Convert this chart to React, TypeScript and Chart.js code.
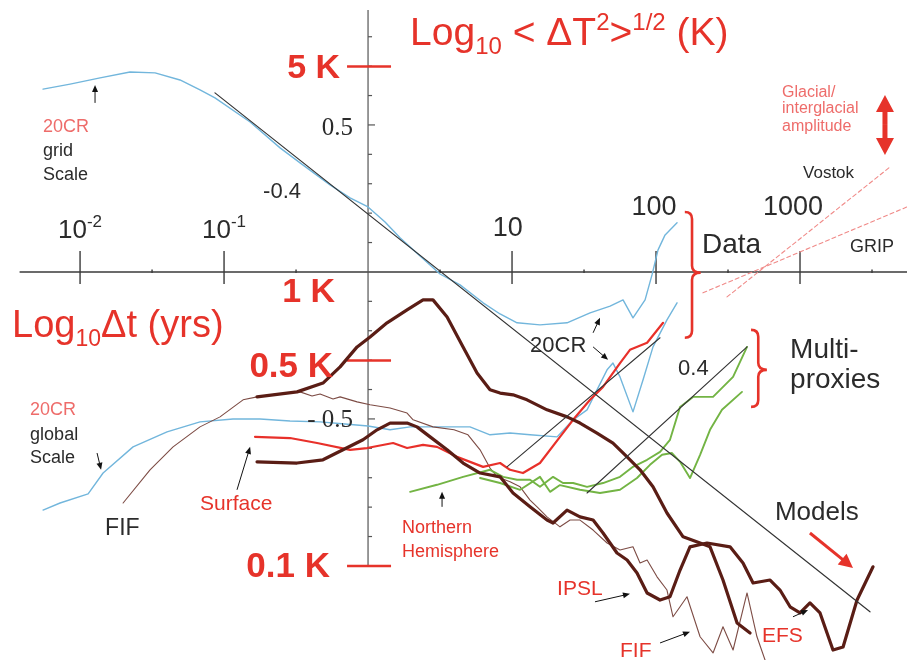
import React, { useEffect, useRef } from "react";
import { Chart, registerables } from "chart.js";
Chart.register(...registerables);

// axis ranges: x = log10 Δt (yrs), y = log10 <ΔT²>^1/2 (K)
const X_MIN = -2.556;
const X_MAX = 3.743;
const Y_MIN = -1.32;
const Y_MAX = 0.925;

// 20CR grid scale (blue, upper)
const gridX = [-2.257, -2.069, -1.861, -1.653, -1.479, -1.306, -1.167, -1.063, -0.819, -0.611, -0.472, -0.264, -0.125, 0, 0.118, 0.222, 0.361, 0.5, 0.639, 0.799, 0.917, 1.035, 1.194, 1.382, 1.542, 1.681, 1.771, 1.84, 1.924, 1.972, 2.014, 2.063, 2.146];
const gridY = [0.622, 0.639, 0.66, 0.68, 0.677, 0.653, 0.619, 0.592, 0.51, 0.422, 0.371, 0.296, 0.252, 0.221, 0.17, 0.116, 0.054, -0.007, -0.044, -0.105, -0.143, -0.173, -0.18, -0.173, -0.139, -0.116, -0.095, -0.156, -0.095, -0.01, 0.075, 0.126, 0.167];

// 20CR global scale (blue, lower)
const globalX = [-2.257, -2.139, -1.944, -1.84, -1.632, -1.396, -1.167, -0.938, -0.75, -0.542, -0.333, -0.16, 0, 0.153, 0.292, 0.5, 0.708, 0.847, 0.986, 1.125, 1.313, 1.424, 1.521, 1.59, 1.66, 1.701, 1.75, 1.84, 1.91, 1.979, 2.076, 2.146];
const globalY = [-0.81, -0.786, -0.755, -0.684, -0.595, -0.544, -0.51, -0.5, -0.5, -0.507, -0.51, -0.517, -0.524, -0.537, -0.527, -0.527, -0.527, -0.554, -0.548, -0.554, -0.561, -0.503, -0.469, -0.401, -0.333, -0.31, -0.357, -0.476, -0.367, -0.255, -0.163, -0.105];

// Surface (red)
const surfaceX = [-0.785, -0.542, -0.354, -0.125, -0.007, 0.174, 0.271, 0.382, 0.479, 0.618, 0.799, 0.917, 0.986, 1.076, 1.194, 1.333, 1.424, 1.542, 1.632, 1.75, 1.819, 1.938, 2.049];
const surfaceY = [-0.561, -0.565, -0.582, -0.605, -0.599, -0.582, -0.599, -0.588, -0.595, -0.629, -0.663, -0.65, -0.673, -0.684, -0.65, -0.561, -0.503, -0.435, -0.391, -0.31, -0.265, -0.241, -0.173];

// Model A (thick brown, upper)
const modelAX = [-0.771, -0.493, -0.313, -0.194, -0.076, 0.014, 0.132, 0.271, 0.382, 0.451, 0.549, 0.66, 0.757, 0.847, 0.917, 1.007, 1.104, 1.243, 1.382, 1.472, 1.59, 1.701, 1.799, 1.889, 1.979, 2.076, 2.188, 2.306, 2.375, 2.465, 2.563, 2.653];
const modelAY = [-0.425, -0.408, -0.378, -0.323, -0.255, -0.221, -0.173, -0.129, -0.095, -0.095, -0.153, -0.255, -0.344, -0.401, -0.412, -0.418, -0.435, -0.469, -0.493, -0.514, -0.548, -0.582, -0.629, -0.673, -0.731, -0.82, -0.901, -0.922, -0.935, -1.048, -1.194, -1.228];

// Model B (thick brown, lower, IPSL / EFS)
const modelBX = [-0.771, -0.493, -0.313, -0.174, -0.035, 0.063, 0.153, 0.271, 0.34, 0.431, 0.549, 0.66, 0.778, 0.917, 1.007, 1.125, 1.243, 1.285, 1.382, 1.472, 1.563, 1.632, 1.729, 1.799, 1.868, 1.938, 2.028, 2.097, 2.167, 2.236, 2.354, 2.514, 2.604, 2.674, 2.792, 2.861, 2.931, 3.0, 3.069, 3.139, 3.229, 3.299, 3.396, 3.507];
const modelBY = [-0.646, -0.65, -0.639, -0.605, -0.571, -0.537, -0.514, -0.514, -0.527, -0.561, -0.605, -0.65, -0.684, -0.697, -0.752, -0.799, -0.844, -0.854, -0.81, -0.833, -0.844, -0.888, -0.956, -0.98, -1.024, -1.092, -1.116, -1.105, -1.014, -0.935, -0.922, -0.935, -0.99, -1.058, -1.048, -1.082, -1.139, -1.16, -1.126, -1.16, -1.286, -1.276, -1.116, -1.003];

// FIF (thin brown)
const fifX = [-1.701, -1.514, -1.354, -1.167, -1.028, -0.868, -0.771, -0.681, -0.472, -0.389, -0.333, -0.243, -0.194, -0.076, 0.014, 0.153, 0.271, 0.313, 0.451, 0.597, 0.694, 0.778, 0.847, 0.896, 0.986, 1.056, 1.125, 1.174, 1.243, 1.333, 1.403, 1.472, 1.563, 1.66, 1.75, 1.84, 1.889, 1.938, 2.007, 2.076, 2.118, 2.167, 2.215, 2.306, 2.396, 2.465, 2.535, 2.632, 2.701, 2.757];
const fifY = [-0.786, -0.673, -0.595, -0.527, -0.493, -0.435, -0.425, -0.418, -0.408, -0.422, -0.415, -0.432, -0.425, -0.442, -0.452, -0.463, -0.48, -0.503, -0.527, -0.537, -0.554, -0.605, -0.667, -0.697, -0.714, -0.731, -0.776, -0.799, -0.833, -0.867, -0.844, -0.844, -0.878, -0.922, -0.946, -0.935, -0.99, -0.98, -1.037, -1.082, -1.173, -1.139, -1.105, -1.241, -1.296, -1.207, -1.286, -1.092, -1.241, -1.32];

// Multi-proxies (green): Northern Hemisphere and second reconstruction
const nhX = [0.292, 0.479, 0.66, 0.847, 0.938, 1.035, 1.125, 1.194, 1.285, 1.354, 1.424, 1.521, 1.632, 1.75, 1.84, 1.938, 2.028, 2.097, 2.167, 2.257, 2.396, 2.535, 2.632];
const nhY = [-0.748, -0.724, -0.697, -0.673, -0.697, -0.707, -0.707, -0.731, -0.697, -0.718, -0.718, -0.731, -0.718, -0.697, -0.663, -0.639, -0.612, -0.571, -0.459, -0.425, -0.425, -0.357, -0.255];
const proxyX = [0.778, 0.917, 1.056, 1.194, 1.264, 1.333, 1.472, 1.611, 1.75, 1.868, 1.958, 2.042, 2.111, 2.167, 2.236, 2.306, 2.375, 2.458, 2.597];
const proxyY = [-0.701, -0.718, -0.741, -0.697, -0.748, -0.725, -0.741, -0.752, -0.741, -0.701, -0.656, -0.622, -0.616, -0.646, -0.701, -0.622, -0.537, -0.469, -0.408];

// Power-law fits (slopes -0.4 and 0.4)
const fitDownX = [-1.063, 3.486];
const fitDownY = [0.609, -1.156];
const fit1X = [0.965, 2.028];
const fit1Y = [-0.663, -0.224];
const fit2X = [1.521, 2.632];
const fit2Y = [-0.752, -0.255];

// Ice cores (dashed)
const vostokX = [2.493, 3.625];
const vostokY = [-0.085, 0.357];
const gripX = [2.326, 3.743];
const gripY = [-0.071, 0.221];

// Axis ticks
const xMajorTicks = [-2, -1, 1, 2, 3];
const xMinorTicks = [-1.5, -0.5, 0.5, 1.5, 2.5, 3.5];
const yMinorTicks = [0.8, 0.7, 0.6, 0.5, 0.4, 0.3, 0.2, 0.1, -0.1, -0.2, -0.3, -0.4, -0.5, -0.6, -0.7, -0.8, -0.9];
const kelvinTicks = [0.699, -0.301, -1];

const SANS = '"Liberation Sans", Arial, sans-serif';
const SERIF = '"Liberation Serif", "Times New Roman", serif';
const RED = "#e6332a";
const PINK = "#ee6c6a";
const DARK = "#2b2b2b";

type Part = { t: string; size: number; dy?: number; bold?: boolean; family?: string };
type Label = { parts: Part[]; x: number; y: number; align: "left" | "center" | "right"; color: string };

const P = (t: string, size: number, extra: Partial<Part> = {}): Part => ({ t, size, ...extra });

const labels: Label[] = [
  { parts: [P("Log", 39), P("10", 24, { dy: 9 }), P(" < ΔT", 39), P("2", 24, { dy: -15 }), P(">", 39), P("1/2", 24, { dy: -15 }), P(" (K)", 39)], x: 0.292, y: 0.772, align: "left", color: RED },
  { parts: [P("Log", 38), P("10", 23, { dy: 9 }), P("Δt (yrs)", 38)], x: -2.472, y: -0.221, align: "left", color: RED },
  { parts: [P("5 K", 34, { bold: true })], x: -0.194, y: 0.66, align: "right", color: RED },
  { parts: [P("1 K", 34, { bold: true })], x: -0.229, y: -0.102, align: "right", color: RED },
  { parts: [P("0.5 K", 35, { bold: true })], x: -0.243, y: -0.357, align: "right", color: RED },
  { parts: [P("0.1 K", 35, { bold: true })], x: -0.264, y: -1.037, align: "right", color: RED },
  { parts: [P("0.5", 25, { family: SERIF })], x: -0.104, y: 0.466, align: "right", color: DARK },
  { parts: [P("- 0.5", 25, { family: SERIF })], x: -0.104, y: -0.527, align: "right", color: DARK },
  { parts: [P("-0.4", 22)], x: -0.597, y: 0.252, align: "center", color: DARK },
  { parts: [P("10", 26), P("-2", 17, { dy: -11 })], x: -2, y: 0.116, align: "center", color: DARK },
  { parts: [P("10", 26), P("-1", 17, { dy: -11 })], x: -1, y: 0.116, align: "center", color: DARK },
  { parts: [P("10", 27)], x: 0.97, y: 0.122, align: "center", color: DARK },
  { parts: [P("100", 27)], x: 1.986, y: 0.194, align: "center", color: DARK },
  { parts: [P("1000", 27)], x: 2.951, y: 0.194, align: "center", color: DARK },
  { parts: [P("Data", 28)], x: 2.319, y: 0.065, align: "left", color: DARK },
  { parts: [P("Multi-", 28)], x: 2.931, y: -0.293, align: "left", color: DARK },
  { parts: [P("proxies", 28)], x: 2.931, y: -0.395, align: "left", color: DARK },
  { parts: [P("Models", 26)], x: 2.826, y: -0.844, align: "left", color: DARK },
  { parts: [P("20CR", 18)], x: -2.257, y: 0.476, align: "left", color: PINK },
  { parts: [P("grid", 18)], x: -2.257, y: 0.395, align: "left", color: DARK },
  { parts: [P("Scale", 18)], x: -2.257, y: 0.313, align: "left", color: DARK },
  { parts: [P("20CR", 18)], x: -2.347, y: -0.486, align: "left", color: PINK },
  { parts: [P("global", 18)], x: -2.347, y: -0.571, align: "left", color: DARK },
  { parts: [P("Scale", 18)], x: -2.347, y: -0.65, align: "left", color: DARK },
  { parts: [P("FIF", 23)], x: -1.826, y: -0.895, align: "left", color: DARK },
  { parts: [P("Surface", 21)], x: -1.167, y: -0.81, align: "left", color: RED },
  { parts: [P("Northern", 18)], x: 0.236, y: -0.888, align: "left", color: RED },
  { parts: [P("Hemisphere", 18)], x: 0.236, y: -0.969, align: "left", color: RED },
  { parts: [P("20CR", 22)], x: 1.125, y: -0.272, align: "left", color: DARK },
  { parts: [P("0.4", 22)], x: 2.153, y: -0.35, align: "left", color: DARK },
  { parts: [P("IPSL", 21)], x: 1.313, y: -1.099, align: "left", color: RED },
  { parts: [P("FIF", 21)], x: 1.75, y: -1.31, align: "left", color: RED },
  { parts: [P("EFS", 21)], x: 2.736, y: -1.259, align: "left", color: RED },
  { parts: [P("Glacial/", 16)], x: 2.875, y: 0.595, align: "left", color: PINK },
  { parts: [P("interglacial", 16)], x: 2.875, y: 0.541, align: "left", color: PINK },
  { parts: [P("amplitude", 16)], x: 2.875, y: 0.48, align: "left", color: PINK },
  { parts: [P("Vostok", 17)], x: 3.021, y: 0.32, align: "left", color: DARK },
  { parts: [P("GRIP", 18)], x: 3.347, y: 0.068, align: "left", color: DARK },
];

// small pointer arrows: [x1, y1, x2, y2] (tail -> head), in axis units
const pointerArrows: number[][] = [
  [-1.896, 0.575, -1.896, 0.636],
  [-1.882, -0.616, -1.854, -0.673],
  [-0.91, -0.741, -0.819, -0.595],
  [0.514, -0.799, 0.514, -0.748],
  [1.563, -0.207, 1.611, -0.156],
  [1.563, -0.255, 1.667, -0.299],
  [1.576, -1.122, 1.819, -1.095],
  [2.028, -1.262, 2.236, -1.224],
  [2.951, -1.173, 3.056, -1.15],
];

// braces: [xEnds, xSpine, xTip, yTop, yMid, yBottom]
const braces: number[][] = [
  [2.2, 2.25, 2.31, 0.204, -0.003, -0.224],
  [2.66, 2.71, 2.77, -0.197, -0.333, -0.459],
];

function drawRich(ctx: CanvasRenderingContext2D, lab: Label, px: number, py: number) {
  const fonts = lab.parts.map(p => `${p.bold ? "bold " : ""}${p.size}px ${p.family || SANS}`);
  let total = 0;
  const widths = lab.parts.map((p, i) => {
    ctx.font = fonts[i];
    const w = ctx.measureText(p.t).width;
    total += w;
    return w;
  });
  let x = lab.align === "left" ? px : lab.align === "right" ? px - total : px - total / 2;
  ctx.fillStyle = lab.color;
  ctx.textBaseline = "alphabetic";
  ctx.textAlign = "left";
  lab.parts.forEach((p, i) => {
    ctx.font = fonts[i];
    ctx.fillText(p.t, x, py + (p.dy || 0));
    x += widths[i];
  });
}

function arrow(ctx: CanvasRenderingContext2D, x1: number, y1: number, x2: number, y2: number, head: number, width: number, color: string, lw: number) {
  const a = Math.atan2(y2 - y1, x2 - x1);
  ctx.strokeStyle = color;
  ctx.fillStyle = color;
  ctx.lineWidth = lw;
  ctx.beginPath();
  ctx.moveTo(x1, y1);
  ctx.lineTo(x2 - Math.cos(a) * head * 0.8, y2 - Math.sin(a) * head * 0.8);
  ctx.stroke();
  ctx.beginPath();
  ctx.moveTo(x2, y2);
  ctx.lineTo(x2 - Math.cos(a) * head + Math.sin(a) * width, y2 - Math.sin(a) * head - Math.cos(a) * width);
  ctx.lineTo(x2 - Math.cos(a) * head - Math.sin(a) * width, y2 - Math.sin(a) * head + Math.cos(a) * width);
  ctx.closePath();
  ctx.fill();
}

const axesPlugin = {
  id: "crossAxes",
  beforeDatasetsDraw(chart: any) {
    const ctx: CanvasRenderingContext2D = chart.ctx;
    const xs = chart.scales.x, ys = chart.scales.y;
    const X = (v: number) => xs.getPixelForValue(v);
    const Y = (v: number) => ys.getPixelForValue(v);
    ctx.save();
    ctx.strokeStyle = "#3a3a3a";
    ctx.lineWidth = 1.4;
    // horizontal axis
    ctx.beginPath();
    ctx.moveTo(X(-2.42), Y(0));
    ctx.lineTo(X(X_MAX), Y(0));
    ctx.stroke();
    xMajorTicks.forEach(t => {
      ctx.beginPath();
      ctx.moveTo(X(t), Y(0) - 21);
      ctx.lineTo(X(t), Y(0) + 12);
      ctx.stroke();
    });
    xMinorTicks.forEach(t => {
      ctx.beginPath();
      ctx.moveTo(X(t), Y(0) - 2.5);
      ctx.lineTo(X(t), Y(0) + 1);
      ctx.stroke();
    });
    // vertical axis
    ctx.lineWidth = 1.2;
    ctx.strokeStyle = "#555";
    ctx.beginPath();
    ctx.moveTo(X(0), Y(0.891));
    ctx.lineTo(X(0), Y(-1));
    ctx.stroke();
    yMinorTicks.forEach(t => {
      const len = Math.abs(Math.abs(t) - 0.5) < 1e-6 ? 7 : 4;
      ctx.beginPath();
      ctx.moveTo(X(0), Y(t));
      ctx.lineTo(X(0) + len, Y(t));
      ctx.stroke();
    });
    // Kelvin ticks (red)
    ctx.strokeStyle = RED;
    ctx.lineWidth = 2.5;
    kelvinTicks.forEach(t => {
      ctx.beginPath();
      ctx.moveTo(X(0) - 21, Y(t));
      ctx.lineTo(X(0) + 23, Y(t));
      ctx.stroke();
    });
    ctx.restore();
  },
  afterDatasetsDraw(chart: any) {
    const ctx: CanvasRenderingContext2D = chart.ctx;
    const xs = chart.scales.x, ys = chart.scales.y;
    const X = (v: number) => xs.getPixelForValue(v);
    const Y = (v: number) => ys.getPixelForValue(v);
    ctx.save();
    labels.forEach(l => drawRich(ctx, l, X(l.x), Y(l.y)));
    pointerArrows.forEach(a => arrow(ctx, X(a[0]), Y(a[1]), X(a[2]), Y(a[3]), 7, 3, "#111", 1));
    // Models arrow
    arrow(ctx, X(3.069), Y(-0.888), X(3.368), Y(-1.007), 14, 7, RED, 3);
    // Glacial/interglacial double arrow
    {
      const x = X(3.59), yt = Y(0.602), yb = Y(0.398);
      arrow(ctx, x, (yt + yb) / 2, x, yt, 17, 9, RED, 5);
      arrow(ctx, x, (yt + yb) / 2, x, yb, 17, 9, RED, 5);
    }
    // braces
    ctx.strokeStyle = RED;
    ctx.lineWidth = 2.6;
    braces.forEach(b => {
      const xe = X(b[0]), xv = X(b[1]), xt = X(b[2]);
      const yt = Y(b[3]), ym = Y(b[4]), yb = Y(b[5]);
      const r = 7;
      ctx.beginPath();
      ctx.moveTo(xe, yt);
      ctx.quadraticCurveTo(xv, yt, xv, yt + r);
      ctx.lineTo(xv, ym - r);
      ctx.quadraticCurveTo(xv, ym, xt, ym);
      ctx.quadraticCurveTo(xv, ym, xv, ym + r);
      ctx.lineTo(xv, yb - r);
      ctx.quadraticCurveTo(xv, yb, xe, yb);
      ctx.stroke();
    });
    ctx.restore();
  },
};

const zip = (xs: number[], ys: number[]) => xs.map((x, i) => ({ x, y: ys[i] }));

const line = (label: string, xs: number[], ys: number[], color: string, width: number, order: number, extra: any = {}) => ({
  label,
  data: zip(xs, ys),
  borderColor: color,
  backgroundColor: color,
  borderWidth: width,
  pointRadius: 0,
  tension: 0,
  fill: false,
  borderJoinStyle: "round",
  borderCapStyle: "round",
  order,
  ...extra,
});

export default function App() {
  const ref = useRef<HTMLCanvasElement>(null);
  useEffect(() => {
    if (!ref.current) return;
    const chart = new Chart(ref.current, {
      type: "line",
      data: {
        datasets: [
          line("Vostok", vostokX, vostokY, "#f08a88", 1.1, 9, { borderDash: [4, 3] }),
          line("GRIP", gripX, gripY, "#f08a88", 1.1, 9, { borderDash: [4, 3] }),
          line("20CR grid", gridX, gridY, "#72b6dc", 1.4, 8),
          line("20CR global", globalX, globalY, "#72b6dc", 1.4, 8),
          line("FIF", fifX, fifY, "#7d4c45", 1.1, 7),
          line("Northern Hemisphere", nhX, nhY, "#73b444", 1.9, 6),
          line("Multi-proxy", proxyX, proxyY, "#73b444", 1.9, 6),
          line("Surface", surfaceX, surfaceY, "#e8302a", 2.2, 5),
          line("Model A", modelAX, modelAY, "#5a1d15", 3.2, 4),
          line("Model B", modelBX, modelBY, "#5a1d15", 3.2, 4),
          line("fit -0.4", fitDownX, fitDownY, "#333", 1.2, 3),
          line("fit 0.4 a", fit1X, fit1Y, "#333", 1.1, 3),
          line("fit 0.4 b", fit2X, fit2Y, "#333", 1.1, 3),
        ],
      },
      options: {
        animation: false,
        responsive: true,
        maintainAspectRatio: false,
        layout: { padding: 0 },
        plugins: { legend: { display: false }, tooltip: { enabled: false }, title: { display: false } },
        scales: {
          x: { type: "linear", min: X_MIN, max: X_MAX, display: false },
          y: { type: "linear", min: Y_MIN, max: Y_MAX, display: false },
        },
      } as any,
      plugins: [axesPlugin],
    });
    return () => chart.destroy();
  }, []);
  return (
    <div style={{ position: "fixed", left: 0, top: 0, width: 907, height: 660, background: "#fff" }}>
      <canvas ref={ref} />
    </div>
  );
}
